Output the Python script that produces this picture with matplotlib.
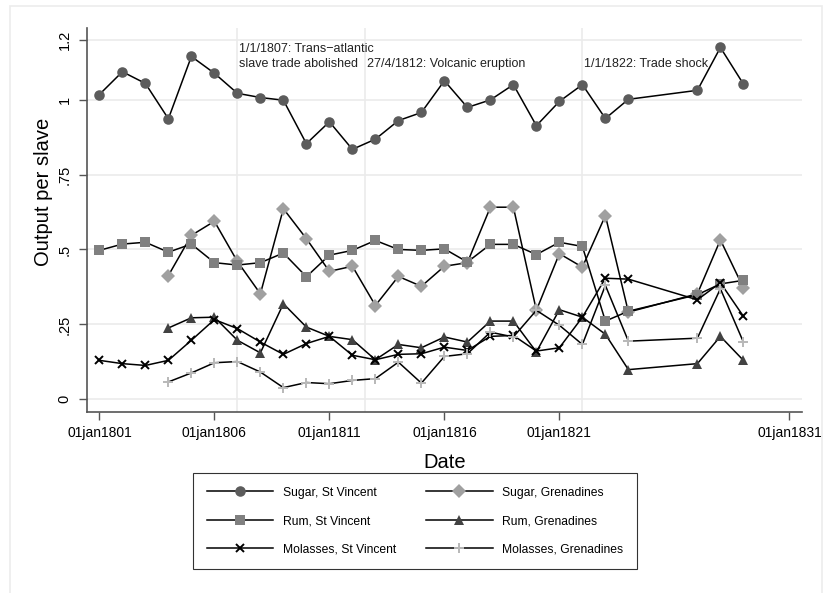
import matplotlib
matplotlib.use('Agg')
import matplotlib.pyplot as plt
from matplotlib.patches import Rectangle

plt.rcParams['font.family'] = ['Liberation Sans', 'DejaVu Sans']

# years with data (1825 and 1826 missing)
years_sv = list(range(1801, 1825)) + [1827, 1828, 1829]
years_gr = list(range(1804, 1825)) + [1827, 1828, 1829]

sugar_sv = [1.017, 1.093, 1.054, 0.936, 1.144, 1.088, 1.021, 1.007, 0.998, 0.853,
            0.926, 0.834, 0.868, 0.930, 0.957, 1.063, 0.974, 0.999, 1.050, 0.913,
            0.994, 1.050, 0.937, 1.001, 1.031, 1.174, 1.052]
rum_sv = [0.497, 0.518, 0.524, 0.491, 0.518, 0.456, 0.448, 0.456, 0.488, 0.409,
          0.481, 0.497, 0.530, 0.500, 0.497, 0.502, 0.458, 0.517, 0.517, 0.483,
          0.524, 0.510, 0.261, 0.294, 0.349, 0.385, 0.397]
molasses_sv = [0.130, 0.119, 0.113, 0.130, 0.197, 0.266, 0.236, 0.191, 0.150, 0.186,
               0.210, 0.147, 0.132, 0.150, 0.152, 0.174, 0.163, 0.210, 0.213, 0.161,
               0.172, 0.274, 0.404, 0.401, 0.332, 0.389, 0.277]
sugar_gr = [0.413, 0.547, 0.594, 0.460, 0.352, 0.636, 0.536, 0.427, 0.444, 0.313,
            0.410, 0.377, 0.444, 0.456, 0.641, 0.641, 0.297, 0.486, 0.441, 0.613,
            0.291, 0.352, 0.532, 0.372]
rum_gr = [0.238, 0.272, 0.274, 0.197, 0.155, 0.319, 0.241, 0.210, 0.199, 0.132,
          0.183, 0.172, 0.208, 0.191, 0.261, 0.261, 0.158, 0.299, 0.274, 0.217,
          0.099, 0.119, 0.210, 0.130]
molasses_gr = [0.058, 0.088, 0.122, 0.126, 0.091, 0.039, 0.056, 0.052, 0.063, 0.069,
               0.124, 0.054, 0.143, 0.152, 0.224, 0.208, 0.297, 0.247, 0.183, 0.380,
               0.194, 0.204, 0.369, 0.191]

event_dates = [1807.0, 1812.57, 1822.0]
event_labels = ['1/1/1807: Trans\u2212atlantic\nslave trade abolished',
                '27/4/1812: Volcanic eruption',
                '1/1/1822: Trade shock']

xtick_years = [1801, 1806, 1811, 1816, 1821, 1831]
xtick_labels = ['01jan%d' % y for y in xtick_years]
ytick_vals = [0, 0.25, 0.5, 0.75, 1.0, 1.2]
ytick_labels = ['0', '.25', '.5', '.75', '1', '1.2']

fig = plt.figure(figsize=(8.26, 5.93), dpi=100)
ax = fig.add_axes([0.105, 0.3047, 0.866, 0.6476])

# faint outer frame like the stata graph region
fig.patches.append(Rectangle((10 / 826, -0.02), 812 / 826, 1.01 - 6 / 593 + 0.01,
                             transform=fig.transFigure, fill=False,
                             edgecolor='#ececec', linewidth=1.2))

grid_c = '#ebebeb'
for v in ytick_vals:
    ax.axhline(v, color=grid_c, linewidth=1.2, zorder=0)
for d in event_dates:
    ax.axvline(d, color=grid_c, linewidth=1.2, zorder=0)

series = [
    (years_sv, sugar_sv, 'Sugar, St Vincent', 'o', '#5c5c5c', 7.6),
    (years_gr, sugar_gr, 'Sugar, Grenadines', 'D', '#a0a0a0', 7.0),
    (years_sv, rum_sv, 'Rum, St Vincent', 's', '#808080', 7.0),
    (years_gr, rum_gr, 'Rum, Grenadines', '^', '#424242', 7.6),
    (years_sv, molasses_sv, 'Molasses, St Vincent', 'x', '#000000', 6.0),
    (years_gr, molasses_gr, 'Molasses, Grenadines', '+', '#b8b8b8', 7.5),
]
handles = {}
for xs, ys, lab, m, c, ms in series:
    ln, = ax.plot(xs, ys, color='black', linewidth=1.1, marker=m, markersize=ms,
                  markerfacecolor=c, markeredgecolor=c, markeredgewidth=1.4 if m in 'x+' else 0,
                  label=lab, zorder=3)
    handles[lab] = ln

for d, lab in zip(event_dates, event_labels):
    ax.text(d + 0.08, 1.098, lab, fontsize=9, va='bottom', ha='left',
            linespacing=1.35, color='#222222')

ax.set_xlim(1800.45, 1831.55)
ax.set_ylim(-0.0434, 1.238)
ax.set_xticks(xtick_years)
ax.set_xticklabels(xtick_labels, fontsize=10)
ax.set_yticks(ytick_vals)
ax.set_yticklabels(ytick_labels, fontsize=10.5, rotation=90, va='center')
ax.tick_params(axis='both', length=6, width=1, color='#555555', pad=4)
ax.tick_params(axis='y', pad=5)

for s in ['top', 'right']:
    ax.spines[s].set_visible(False)
for s in ['left', 'bottom']:
    ax.spines[s].set_color('#555555')
    ax.spines[s].set_linewidth(1.2)

ax.set_xlabel('Date', fontsize=14.5, labelpad=9)
ax.set_ylabel('Output per slave', fontsize=14.5)
ax.yaxis.set_label_coords(-0.047, 0.573)

order = ['Sugar, St Vincent', 'Rum, St Vincent', 'Molasses, St Vincent',
         'Sugar, Grenadines', 'Rum, Grenadines', 'Molasses, Grenadines']
leg = fig.legend([handles[k] for k in order], order, ncol=2, fontsize=8.7,
                 loc='center', bbox_to_anchor=(415 / 826, 1 - 521 / 593),
                 frameon=True, fancybox=False, edgecolor='black',
                 handlelength=5.5, handletextpad=0.8, columnspacing=2.5,
                 labelspacing=1.35, borderpad=1.12)
leg.get_frame().set_linewidth(0.8)

fig.savefig('out.png', dpi=100, facecolor='white')
